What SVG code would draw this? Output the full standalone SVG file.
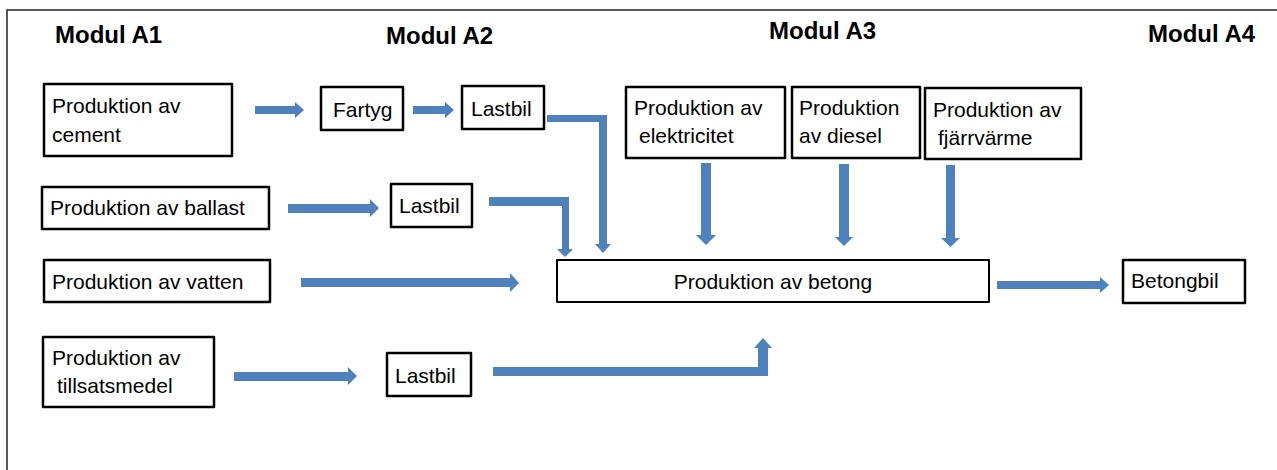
<svg xmlns="http://www.w3.org/2000/svg" width="1277" height="470" viewBox="0 0 1277 470">
<style>
.bg{fill:#fff}
.frame{fill:none;stroke:#222;stroke-width:1.5}
.box{fill:#fff;stroke:#000;stroke-width:2.5;stroke-linejoin:round}
.t{font-family:"Liberation Sans",Arial,sans-serif;font-size:21px;fill:#000}
.h{font-family:"Liberation Sans",Arial,sans-serif;font-size:24px;font-weight:bold;fill:#000}
.arrow{fill:#4F81BD;stroke:none}
</style>
<rect class="bg" x="0" y="0" width="1277" height="470"/>
<path class="frame" d="M7,470 V10 H1277"/>
<g id="titles">
<text class="h" x="55" y="43">Modul A1</text>
<text class="h" x="386" y="44">Modul A2</text>
<text class="h" x="769" y="39">Modul A3</text>
<text class="h" x="1148" y="42">Modul A4</text>
</g>
<g id="connectors">
<path class="arrow" d="M255,106 H295 V102 L304,110 L295,118 V114 H255 Z"/>
<path class="arrow" d="M413,106 H445 V102 L454,110 L445,118 V114 H413 Z"/>
<path class="arrow" d="M547,115 H607 V244 H611 L603,253 L595,244 H599 V122 H547 Z"/>
<path class="arrow" d="M288,204 H370 V199 L379,208 L370,217 V213 H288 Z"/>
<path class="arrow" d="M489,197 H569 V249 H573 L565,257 L557,249 H562 V206 H489 Z"/>
<path class="arrow" d="M301,278 H510 V273 L519,283 L510,292 V287 H301 Z"/>
<path class="arrow" d="M701,163 H711 V235 H716 L706,245 L696,235 H701 Z"/>
<path class="arrow" d="M839,164 H849 V237 H853 L844,246 L835,237 H839 Z"/>
<path class="arrow" d="M946,165 H955 V238 H960 L950.5,247 L941,238 H946 Z"/>
<path class="arrow" d="M234,372 H348 V367 L357,376 L348,385 V381 H234 Z"/>
<path class="arrow" d="M493,367 H758 V348 H754 L763,338 L772,348 H768 V376 H493 Z"/>
<path class="arrow" d="M997,281 H1100 V277 L1109,285 L1100,293 V289 H997 Z"/>
</g>
<g id="cement"><rect class="box" x="44" y="84" width="188" height="72"/><text class="t" x="52" y="113">Produktion av</text><text class="t" x="52" y="142">cement</text></g>
<g id="fartyg"><rect class="box" x="321" y="87" width="82" height="43"/><text class="t" x="333" y="117">Fartyg</text></g>
<g id="lastbil1"><rect class="box" x="462" y="86" width="82" height="43"/><text class="t" x="471" y="116">Lastbil</text></g>
<g id="ballast"><rect class="box" x="42" y="187" width="227" height="42"/><text class="t" x="50" y="215">Produktion av ballast</text></g>
<g id="lastbil2"><rect class="box" x="391" y="184" width="81" height="43"/><text class="t" x="399" y="213">Lastbil</text></g>
<g id="vatten"><rect class="box" x="44" y="260" width="226" height="42"/><text class="t" x="52" y="289">Produktion av vatten</text></g>
<g id="tillsatsmedel"><rect class="box" x="43" y="337" width="171" height="70"/><text class="t" x="52" y="365">Produktion av</text><text class="t" x="57" y="393">tillsatsmedel</text></g>
<g id="lastbil3"><rect class="box" x="387" y="353" width="84" height="43"/><text class="t" x="395" y="383">Lastbil</text></g>
<g id="elektricitet"><rect class="box" x="626" y="87" width="159" height="71"/><text class="t" x="634" y="115">Produktion av</text><text class="t" x="639" y="143">elektricitet</text></g>
<g id="diesel"><rect class="box" x="792" y="87" width="128" height="71"/><text class="t" x="799" y="115">Produktion</text><text class="t" x="799" y="143">av diesel</text></g>
<g id="fjarrvarme"><rect class="box" x="925" y="88" width="156" height="71"/><text class="t" x="933" y="117">Produktion av</text><text class="t" x="938" y="145">fjärrvärme</text></g>
<g id="betong"><rect class="box" x="557" y="260" width="432" height="42" style="stroke-width:2"/><text class="t" x="773" y="289" text-anchor="middle">Produktion av betong</text></g>
<g id="betongbil"><rect class="box" x="1123" y="260" width="122" height="43"/><text class="t" x="1131" y="288">Betongbil</text></g>
</svg>
